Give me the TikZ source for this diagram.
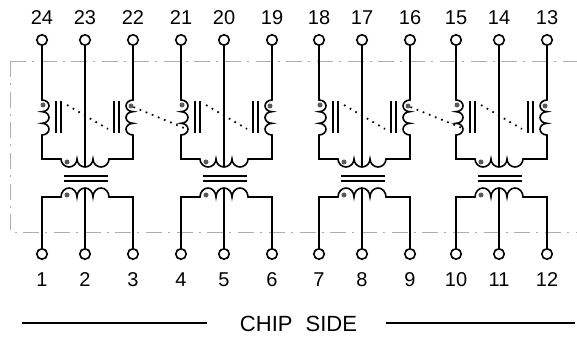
\documentclass[tikz,border=0pt]{standalone}
\usepackage{fontspec}
\setmainfont{Liberation Sans}
\usetikzlibrary{positioning}
\definecolor{framegray}{gray}{0.68}
\definecolor{dotgray}{gray}{0.35}
\tikzset{wire/.style={line width=1.6pt}}
\tikzset{pin-node/.style={draw,circle,line width=1.6pt,fill=white,inner sep=0pt,minimum size=10.5pt}}
\tikzset{pin-label/.style={font=\fontsize{20}{20}\selectfont,inner sep=0pt}}
\tikzset{side-label/.style={font=\fontsize{22}{22}\selectfont,inner sep=0pt}}
\tikzset{phase-dot/.style={circle,fill=dotgray,inner sep=0pt,minimum size=5pt}}
\tikzset{frame-line/.style={color=framegray,line width=0.9pt,dash pattern=on 16pt off 6pt on 2pt off 6.7pt}}
\tikzset{core-dots/.style={line width=1.7pt,dash pattern=on 1.7pt off 4.9pt}}
\newcommand{\coilright}{arc[start angle=90,end angle=-90,x radius=7pt,y radius=5.83pt]
    arc[start angle=90,end angle=-90,x radius=7pt,y radius=5.83pt]
    arc[start angle=90,end angle=-90,x radius=7pt,y radius=5.83pt]}
\newcommand{\coilleft}{arc[start angle=-90,end angle=-270,x radius=7pt,y radius=5.83pt]
    arc[start angle=-90,end angle=-270,x radius=7pt,y radius=5.83pt]
    arc[start angle=-90,end angle=-270,x radius=7pt,y radius=5.83pt]}
\newcommand{\coildown}{arc[start angle=180,end angle=360,x radius=8pt,y radius=8pt]
    arc[start angle=180,end angle=360,x radius=8pt,y radius=8pt]
    arc[start angle=180,end angle=360,x radius=8pt,y radius=8pt]}
\newcommand{\coilup}{arc[start angle=180,end angle=0,x radius=8pt,y radius=9pt]
    arc[start angle=180,end angle=0,x radius=8pt,y radius=9pt]
    arc[start angle=180,end angle=0,x radius=8pt,y radius=9pt]}

\begin{document}
\begin{tikzpicture}[x=1pt,y=1pt]
    \useasboundingbox (0,0) rectangle (577,337);
    % chip boundary
    \draw [frame-line] (10,276) -- (577,276);
    \draw [frame-line] (10,276) -- (10,105) -- (577,105);

    \foreach \cellx/\pa/\pb/\pc/\pd/\pe/\pf in {42/24/23/22/1/2/3, 181/21/20/19/4/5/6, 319/18/17/16/7/8/9, 456/15/14/13/10/11/12} {
        \node [pin-node] (pin\pa) at (\cellx,297) {};
        \node [pin-node] (pin\pb) at (\cellx+43,297) {};
        \node [pin-node] (pin\pc) at (\cellx+91,297) {};
        \node [pin-node] (pin\pd) at (\cellx,83) {};
        \node [pin-node] (pin\pe) at (\cellx+43,83) {};
        \node [pin-node] (pin\pf) at (\cellx+91,83) {};
        \node [pin-label,above=9.5 of pin\pa] {\pa};
        \node [pin-label,above=9.5 of pin\pb] {\pb};
        \node [pin-label,above=9.5 of pin\pc] {\pc};
        \node [pin-label,below=12.5 of pin\pd] {\pd};
        \node [pin-label,below=12.5 of pin\pe] {\pe};
        \node [pin-label,below=12.5 of pin\pf] {\pf};

        \coordinate (tap\pb) at (\cellx+43,170);
        \coordinate (tap\pe) at (\cellx+43,149);
        \draw [wire] (pin\pa) -- (\cellx,237) \coilright -- (\cellx,178) -- (\cellx+19,178)
            \coildown -- (\cellx+91,178) -- (\cellx+91,202) \coilleft -- (pin\pc);
        \draw [wire] (pin\pb) -- (tap\pb);
        \draw [wire] (pin\pd) -- (\cellx,140) -- (\cellx+19,140) \coilup -- (\cellx+91,140) -- (pin\pf);
        \draw [wire] (pin\pe) -- (tap\pe);

        % cores
        \draw [wire] (\cellx+14,236) -- (\cellx+14,204);
        \draw [wire] (\cellx+19,236) -- (\cellx+19,204);
        \draw [wire] (\cellx+72,236) -- (\cellx+72,204);
        \draw [wire] (\cellx+77,236) -- (\cellx+77,204);
        \draw [wire] (\cellx+22,161) -- (\cellx+66,161);
        \draw [wire] (\cellx+22,156) -- (\cellx+66,156);

        % phase dots
        \node [phase-dot] (dotl\pa) at (\cellx+1,232) {};
        \node [phase-dot] (dotr\pc) at (\cellx+89,231) {};
        \node [phase-dot] (dott\pb) at (\cellx+25,175) {};
        \node [phase-dot] (dotb\pe) at (\cellx+25,142) {};

        \coordinate (cross\pa) at (\cellx+25,232);
        \coordinate (cross\pc) at (\cellx+66,208);
        \draw [core-dots] (cross\pa) -- (cross\pc);
    }
    \draw [core-dots] (dotr22) -- (184,209);
    \draw [core-dots] (dotr16) -- (462,209);

    % bottom caption
    \node [side-label] (side) at (298.5,13) {CHIP\hspace{7pt} SIDE};
    \coordinate (rule-l) at (22,14);
    \coordinate (rule-r) at (575,14);
    \draw [wire] (rule-l) -- (207,14);
    \draw [wire] (386,14) -- (rule-r);
\end{tikzpicture}
\end{document}
